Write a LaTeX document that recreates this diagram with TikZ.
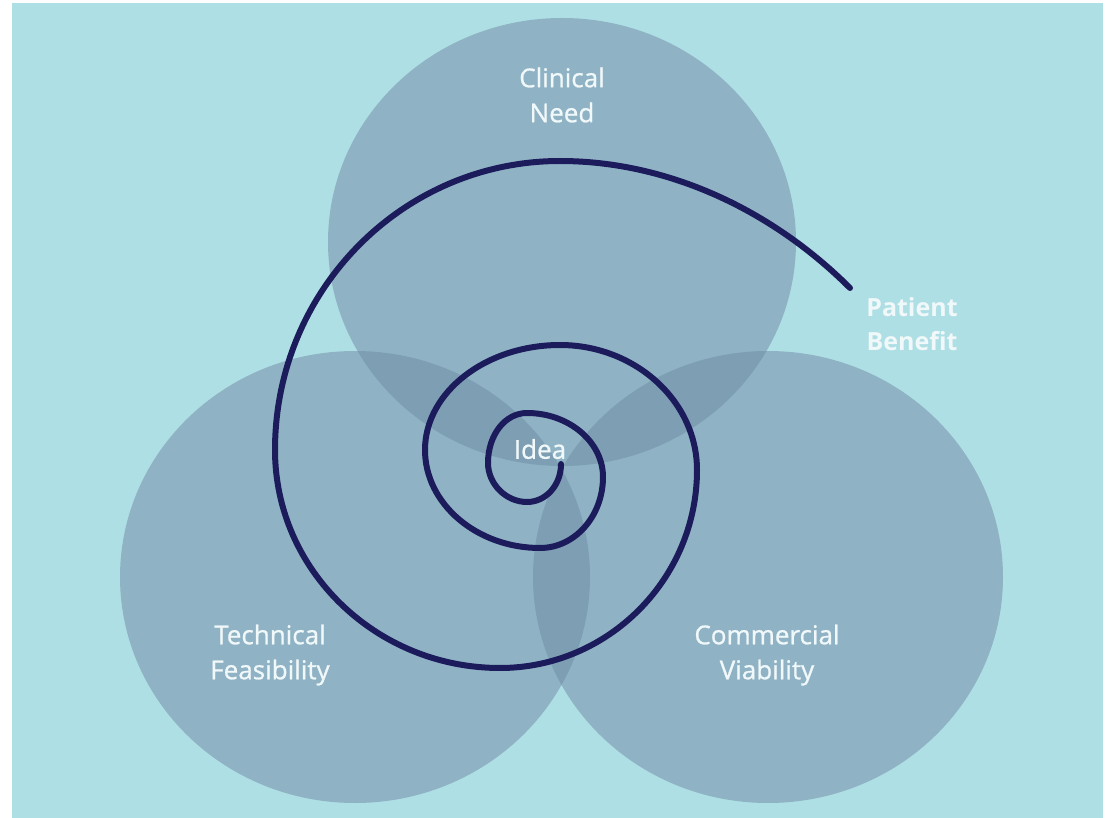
\documentclass[tikz,border=0pt]{standalone}
\usepackage{fontspec}
\setmainfont{Open Sans}
\newfontfamily\medfont{Open Sans}[FakeBold=0.9]
\definecolor{bgcol}{RGB}{174,223,228}
\definecolor{onecol}{RGB}{143,179,197}
\definecolor{twocol}{RGB}{125,158,179}
\definecolor{navy}{RGB}{28,28,92}
\definecolor{txt}{RGB}{240,248,250}
\begin{document}
\begin{tikzpicture}[x=1pt,y=-1pt,
  lbl/.style={text=txt, font=\medfont\fontsize{26}{35}\selectfont, align=center, inner sep=0pt},
  boldlbl/.style={lbl, font=\fontsize{25}{34}\selectfont\bfseries},
  spiralline/.style={line width=6pt, draw=navy, line cap=round}]
\useasboundingbox (0,0) rectangle (1112,818);
\fill[white] (0,0) rectangle (1112,818);
\fill[bgcol] (12,3) rectangle (1103,818);
% circles
\fill[onecol] (562,242) ellipse [x radius=234, y radius=224];
\fill[onecol] (355,577) ellipse [x radius=235, y radius=226];
\fill[onecol] (768,577) ellipse [x radius=235, y radius=226];
\begin{scope}
  \clip (562,242) ellipse [x radius=234, y radius=224];
  \fill[twocol] (355,577) ellipse [x radius=235, y radius=226];
  \fill[twocol] (768,577) ellipse [x radius=235, y radius=226];
\end{scope}
\begin{scope}
  \clip (355,577) ellipse [x radius=235, y radius=226];
  \fill[twocol] (768,577) ellipse [x radius=235, y radius=226];
\end{scope}
% spiral
\coordinate (sstart) at (561,464);
\coordinate (send) at (850,288);
\draw[spiralline] (sstart)
  .. controls (561,485) and (546,502) .. (527,502)
  .. controls (506,502) and (488,484) .. (488,463)
  .. controls (488,435) and (505,413) .. (527,413)
  .. controls (569,413) and (603,442) .. (603,477)
  .. controls (603,516) and (575,548) .. (540,548)
  .. controls (477,548) and (425,504) .. (425,450)
  .. controls (425,392) and (486,345) .. (560,345)
  .. controls (635,345) and (697,401) .. (697,470)
  .. controls (697,579) and (608,668) .. (500,668)
  .. controls (376,668) and (275,570) .. (275,450)
  .. controls (275,290) and (403,161) .. (560,161)
  .. controls (669,161) and (773,211) .. (send);
% labels
\node[lbl] (need) at (562,95) {Clinical\\Need};
\node[boldlbl] (benefit) at (912,324) {Patient\\Benefit};
\node[lbl] (idea) at (540,449) {Idea};
\node[lbl] (tech) at (270,655) {Technical\\Feasibility};
\node[lbl] (comm) at (767,655) {Commercial\\Viability};
\end{tikzpicture}
\end{document}
